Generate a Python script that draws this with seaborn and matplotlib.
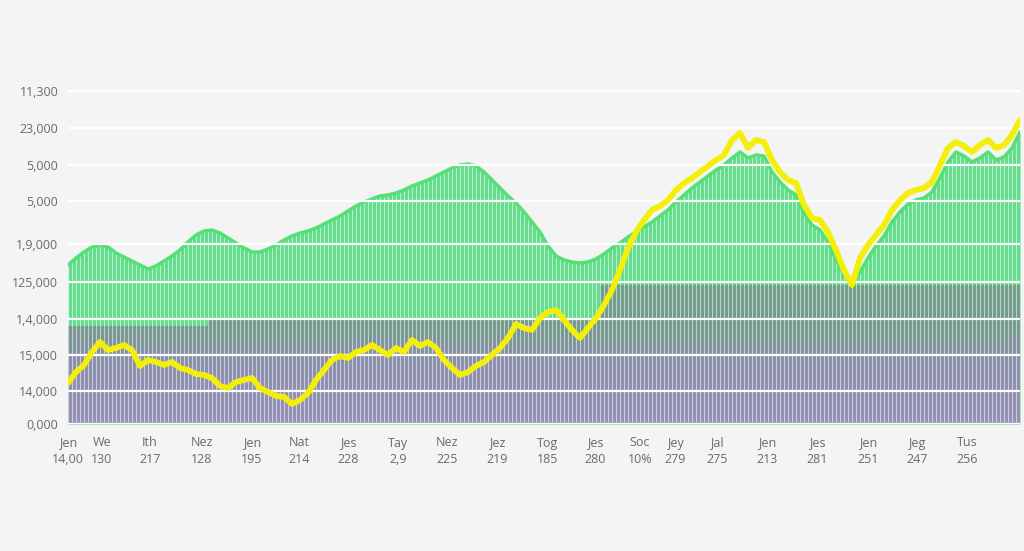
import numpy as np
import matplotlib
matplotlib.use("Agg")
from matplotlib import pyplot as plt
from matplotlib.colors import LinearSegmentedColormap
import seaborn as sns
import pandas as pd

# series heights in plot units (0 = baseline), one value per column
line_vals = [
    41, 52, 59, 72, 82, 74, 76, 79, 74, 58,
    64, 62, 59, 62, 56, 54, 50, 49, 46, 38,
    36, 42, 44, 46, 36, 32, 28, 27, 20, 24,
    31, 44, 54, 64, 68, 66, 72, 74, 79, 74,
    69, 76, 72, 84, 78, 82, 76, 64, 56, 49,
    52, 58, 62, 69, 76, 86, 100, 96, 94, 106,
    112, 114, 104, 94, 86, 96, 106, 119, 134, 154,
    176, 192, 204, 214, 218, 224, 234, 241, 246, 252,
    258, 264, 269, 284, 291, 276, 284, 282, 264, 252,
    244, 241, 219, 206, 204, 192, 174, 154, 139, 166,
    179, 189, 199, 214, 224, 231, 234, 236, 242, 259,
    276, 282, 278, 272, 279, 284, 276, 279, 289, 304,
]
green_vals = [
    159, 166, 172, 177, 179, 177, 171, 167, 163, 159,
    155, 158, 163, 168, 174, 182, 189, 193, 194, 191,
    186, 181, 176, 172, 172, 175, 179, 184, 188, 191,
    193, 196, 200, 204, 208, 213, 218, 222, 225, 228,
    229, 231, 234, 238, 241, 244, 248, 252, 256, 259,
    260, 258, 252, 244, 236, 228, 221, 212, 202, 192,
    178, 168, 164, 162, 161, 162, 165, 170, 176, 181,
    187, 192, 197, 202, 208, 214, 222, 229, 236, 242,
    248, 254, 259, 266, 272, 266, 269, 268, 252, 242,
    234, 229, 211, 199, 194, 182, 164, 150, 140, 152,
    166, 178, 188, 202, 212, 220, 224, 226, 232, 246,
    262, 272, 268, 262, 266, 272, 264, 267, 276, 292,
]
base_vals = [98] * 18 + [106] * 49 + [139] * 53

y_ticks = [0, 33, 69, 105, 142, 180, 223, 259, 296, 333]
y_labels = ["0,000", "14,000", "15,000", "1,4,000", "125,000",
            "1,9,000", "5,000", "5,000", "23,000", "11,300"]

x_tick_pos = [0, 4.25, 10.25, 16.75, 23, 28.9, 35, 41.25, 47.4, 53.6,
              59.9, 65.9, 71.5, 75.9, 81.1, 87.4, 93.6, 100, 106.1, 112.4]
x_top = ["Jen", "We", "Ith", "Nez", "Jen", "Nat", "Jes", "Tay", "Nez", "Jez",
         "Tog", "Jes", "Soc", "Jey", "Jal", "Jen", "Jes", "Jen", "Jeg", "Tus"]
x_bottom = ["14,00", "130", "217", "128", "195", "214", "228", "2,9", "225", "219",
            "185", "280", "10%", "279", "275", "213", "281", "251", "247", "256"]

df = pd.DataFrame({"x": np.arange(len(line_vals)), "line": line_vals,
                   "green": green_vals, "base": base_vals})

sns.set_theme(style="white")
plt.rcParams["font.family"] = ["Open Sans", "DejaVu Sans"]

bg = "#f4f4f4"
fig = plt.figure(figsize=(10.24, 5.51), dpi=100, facecolor=bg)
ax = fig.add_axes([68 / 1024, 127 / 551, 952 / 1024, 344 / 551])
ax.set_facecolor(bg)

x = df["x"].to_numpy()
xmax = x[-1]

# green area
green_poly = ax.fill_between(x, 0, df["green"], color="#62dc8c", lw=0, zorder=1)

# base with vertical gradient (lavender at the bottom, grey-green at the top)
base_poly = ax.fill_between(x, 0, df["base"], step="mid", color="none", lw=0, zorder=1)
cmap = LinearSegmentedColormap.from_list(
    "base", [(0, "#948fb5"), (0.45, "#8a8fab"), (0.68, "#76988f"), (1, "#6c9f86")])
grad = np.linspace(0, 1, 256).reshape(-1, 1)
im = ax.imshow(grad, extent=[0, xmax, 0, 139], origin="lower", aspect="auto",
               cmap=cmap, zorder=1.2, interpolation="bilinear")
im.set_clip_path(base_poly.get_paths()[0], transform=ax.transData)

# bar-like stripes
stripes = ax.vlines(np.arange(0, xmax + 0.01, 0.5), 0, 344, color="white",
                    lw=0.8, alpha=0.55, zorder=1.4)
stripes.set_clip_path(green_poly.get_paths()[0], transform=ax.transData)

# bright green outline
ax.plot(x, df["green"], color="#55e074", lw=2.5, zorder=1.6)

# yellow line
sns.lineplot(data=df, x="x", y="line", ax=ax, color="#f3ef0a", lw=4.2, zorder=3.1)

ax.set_xlim(0, xmax)
ax.set_ylim(0, 344)
ax.set_axisbelow(False)
ax.yaxis.grid(True, color="white", lw=1.6)
ax.xaxis.grid(False)
for s in ax.spines.values():
    s.set_visible(False)

ax.set_yticks(y_ticks)
ax.set_yticklabels(y_labels)
ax.set_xticks(x_tick_pos)
ax.set_xticklabels([a + "\n" + b for a, b in zip(x_top, x_bottom)], linespacing=1.35)
ax.tick_params(axis="y", length=0, pad=7, labelsize=9, labelcolor="#6a6a6a")
ax.tick_params(axis="x", length=0, pad=9, labelsize=9, labelcolor="#6a6a6a")
ax.set_xlabel("")
ax.set_ylabel("")

fig.savefig("out.png", dpi=100, facecolor=bg)
